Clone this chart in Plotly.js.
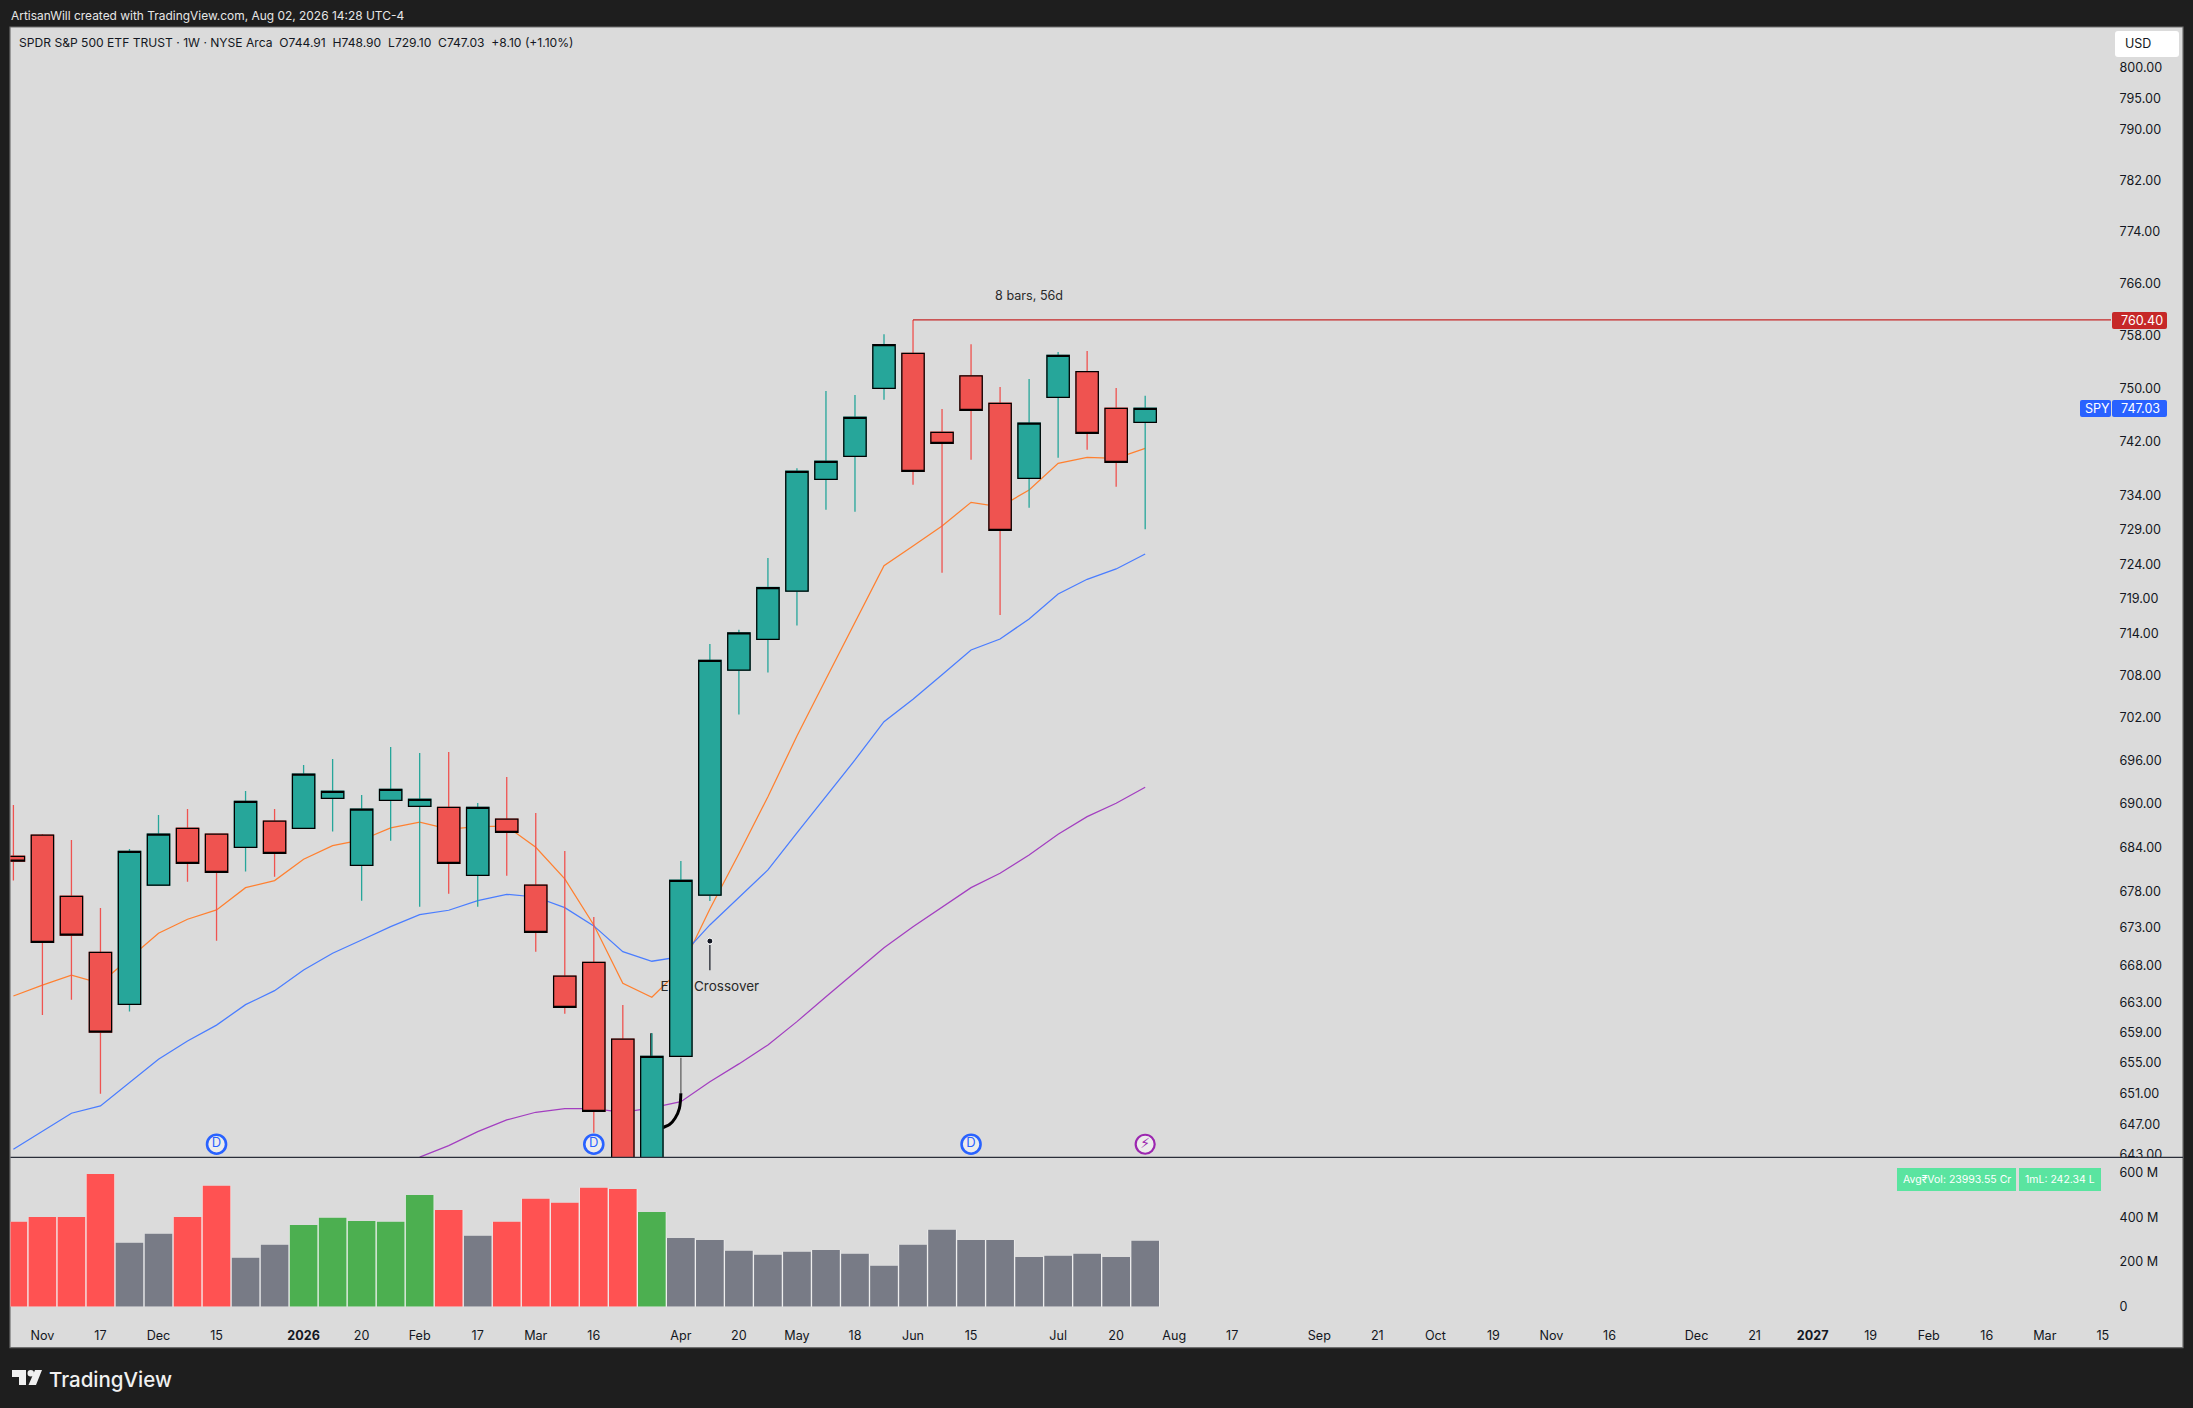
<!DOCTYPE html>
<html><head><meta charset="utf-8">
<script src="https://cdn.plot.ly/plotly-3.0.1.min.js"></script>
<style>html,body{margin:0;padding:0;background:#1e1e1e;}#c{width:2193px;height:1408px;}</style>
</head><body><div id="c"></div>
<script>
const opens  = [682.76,685.65,677.30,669.72,662.77,678.80,686.61,685.79,683.99,687.58,686.61,690.76,681.53,690.48,689.65,689.51,680.16,687.86,678.80,666.51,668.38,658.13,632.00,655.88,677.45,708.76,713.15,720.11,736.45,739.86,750.03,755.31,743.44,751.91,747.78,736.60,748.68,752.56,747.03,744.91];
const highs  = [689.83,685.83,685.00,675.71,683.76,688.45,689.28,685.85,691.77,689.28,695.39,696.23,691.21,697.90,697.06,697.20,690.10,693.72,688.72,683.48,674.48,662.68,658.93,682.12,712.48,714.52,724.90,738.10,749.63,749.03,758.21,760.40,746.92,756.71,750.23,751.44,755.51,755.66,750.08,748.90];
const lows   = [679.43,661.35,663.38,650.98,661.79,678.80,679.29,671.29,680.66,679.97,686.61,686.15,676.70,684.90,675.88,677.65,675.88,680.11,669.80,661.52,645.90,628.00,628.00,655.88,676.64,702.48,708.41,715.15,731.97,731.68,748.31,735.64,722.77,739.36,716.66,732.26,739.65,740.83,735.35,729.10];
const closes = [682.08,671.07,672.02,659.06,683.44,685.79,681.80,680.57,690.34,683.17,694.10,691.73,689.24,691.99,690.62,681.80,689.51,686.06,672.42,662.37,648.68,632.00,655.88,679.48,710.16,714.07,720.62,737.64,739.12,745.68,756.62,737.64,741.80,746.73,728.95,744.80,755.01,743.29,738.97,747.03];
const emaFast = [663.87,665.31,666.64,665.57,668.91,672.29,674.18,675.44,678.47,679.43,682.35,684.21,685.00,686.66,687.45,686.48,686.84,686.89,683.99,679.66,673.41,665.57,663.70,667.49,675.57,683.11,690.98,699.45,707.50,715.60,723.78,726.65,729.59,733.05,732.40,734.87,738.82,739.71,739.56,741.05];
const emaMid  = [643.75,646.13,648.42,649.37,652.47,655.49,657.90,660.00,662.72,664.58,667.35,669.59,671.38,673.18,674.80,675.40,676.70,677.57,677.20,675.75,673.28,669.80,668.52,669.13,673.41,677.16,680.89,685.97,690.94,696.09,701.47,704.62,708.12,711.63,713.21,716.08,719.68,721.81,723.31,725.48];
const emaSlow = [null,null,null,null,null,null,null,null,null,null,null,null,null,null,642.73,644.22,646.03,647.55,648.55,649.02,649.02,648.55,649.11,649.93,652.55,654.88,657.37,660.46,663.78,667.05,670.34,673.18,675.88,678.47,680.44,682.94,685.79,688.22,690.06,692.29];
const volumes = [379,401,401,593,285,325,401,540,218,276,365,397,383,379,499,432,316,379,482,464,531,526,423,307,298,249,231,245,253,236,182,276,343,298,298,222,227,236,222,294];
const volumeKinds = ['down','down','down','down','flat','flat','down','down','flat','flat','up','up','up','up','up','down','flat','down','down','down','down','down','up','flat','flat','flat','flat','flat','flat','flat','flat','flat','flat','flat','flat','flat','flat','flat','flat','flat'];
const priceTicks = [643,647,651,655,659,663,668,673,678,684,690,696,702,708,714,719,724,729,734,742,750,758,766,774,782,790,795,800];
const volumeTicks = [0,200,400,600];
const volumeTickText = ['0','200 M','400 M','600 M'];
const timeTickBars = [1,3,5,7,10,12,14,16,18,20,23,25,27,29,31,33,36,38,40,42,45,47,49,51,53,55,58,60,62,64,66,68,70,72];
const timeTickText = ['Nov','17','Dec','15','<b>2026</b>','20','Feb','17','Mar','16','Apr','20','May','18','Jun','15','Jul','20','Aug','17','Sep','21','Oct','19','Nov','16','Dec','21','<b>2027</b>','19','Feb','16','Mar','15'];
const resistanceLevel = 760.40;
const lastPrice = 747.03;
const dividendBars = [7,20,33];
const earningsBars = [39];
const badgePrice = 644.4;

const W=2193,H=1408,F='Inter, "Noto Sans", sans-serif';
const bars = opens.map((_,i)=>i);
const px = x=>x/W, py = y=>1-y/H;
const PL=10.5,PR=2183,PT=27.5,DIV=1157.3,AX=1322,PB=1347.7,CR=2111;
const xRange=[(PL-13.4)/29.02,(CR-13.4)/29.02];
const yRange=[Math.log10(800*Math.exp(-(DIV-67.1)/4980)),Math.log10(800*Math.exp((67.1-PT)/4980))];
const vRange=[-(AX-1306.5)/44.7*200,(1306.5-DIV)/44.7*200];
const xDom=[px(PL),px(CR)], pDom=[py(DIV),py(PT)], vDom=[py(AX),py(DIV)];
const UP='#26a69a',DN='#ef5350';
const volCol={down:'#ff5252',flat:'#787b86',up:'#4caf50'};

function rr(x0,y0,x1,y1,r){ // rounded rectangle in picture pixels
  const X=px,Y=py;
  return `M${X(x0+r)},${Y(y0)}L${X(x1-r)},${Y(y0)}Q${X(x1)},${Y(y0)} ${X(x1)},${Y(y0+r)}L${X(x1)},${Y(y1-r)}Q${X(x1)},${Y(y1)} ${X(x1-r)},${Y(y1)}L${X(x0+r)},${Y(y1)}Q${X(x0)},${Y(y1)} ${X(x0)},${Y(y1-r)}L${X(x0)},${Y(y0+r)}Q${X(x0)},${Y(y0)} ${X(x0+r)},${Y(y0)}Z`;
}
const pth=(d,fill)=>({type:'path',xref:'paper',yref:'paper',path:d,fillcolor:fill,line:{width:0},layer:'above'});
const poly=(pts)=>'M'+pts.map(p=>px(p[0])+','+py(p[1])).join('L')+'Z';
const shapes=[
 {type:'rect',xref:'paper',yref:'paper',x0:px(PL-0.5),x1:px(PR),y0:py(1347.7),y1:py(27),fillcolor:'#dbdbdb',line:{color:'#6e6e6e',width:1.2},layer:'below'},
 {type:'rect',xref:'paper',yref:'paper',x0:px(2112),x1:px(2182),y0:py(1165),y1:py(DIV),fillcolor:'#dbdbdb',line:{width:0},layer:'above'},
 {type:'line',xref:'paper',yref:'paper',x0:px(PL),x1:px(PR),y0:py(DIV),y1:py(DIV),line:{color:'#2a2e39',width:1.3},layer:'above'},
 pth(rr(2115,31,2179,57,3),'#ffffff'),
 pth(rr(2112,312,2167,329,2),'#c62828'),
 pth(rr(2080,400,2111,417,2),'#2962ff'),
 pth(rr(2112,400,2167,417,2),'#2962ff'),
 {type:'rect',xref:'paper',yref:'paper',x0:px(1897),x1:px(2016),y0:py(1191),y1:py(1168),fillcolor:'#5ae4a0',line:{width:0},layer:'above'},
 {type:'rect',xref:'paper',yref:'paper',x0:px(2019),x1:px(2101),y0:py(1191),y1:py(1168),fillcolor:'#5ae4a0',line:{width:0},layer:'above'},
 pth(poly([[12,1370],[26,1370],[26,1385],[19,1385],[19,1377],[12,1377]]),'#f0f0f0'),
 {type:'circle',xref:'paper',yref:'paper',x0:px(27.5),x1:px(34),y0:py(1376.5),y1:py(1370),fillcolor:'#f0f0f0',line:{width:0},layer:'above'},
 pth(poly([[35,1370],[42,1370],[36,1385],[28.5,1385]]),'#f0f0f0'),
];
const note=(x,y,text,size,color,anchor,extra)=>Object.assign({xref:'paper',yref:'paper',x:px(x),y:py(y),text,showarrow:false,xanchor:anchor||'left',yanchor:'middle',font:{family:F,size,color},borderpad:0},extra||{});
const annotations=[
 note(10,15.5,'ArtisanWill created with TradingView.com, Aug 02, 2026 14:28 UTC-4',11.95,'#e6e6e6'),
 note(18,42.5,'SPDR S&amp;P 500 ETF TRUST · 1W · NYSE Arca  O744.91  H748.90  L729.10  C747.03  +8.10 (+1.10%)',12.1,'#131722'),
 note(2124,43.5,'USD',12.5,'#131722'),
 note(2120.3,320.5,'760.40',12.6,'#ffffff'),
 note(2084,408.5,'SPY',12.6,'#ffffff'),
 note(2120.3,408.5,'747.03',12.6,'#ffffff'),
 note(1956.5,1179.5,'Avg₹Vol: 23993.55 Cr',10.5,'#ffffff','center'),
 note(2060,1179.5,'1mL: 242.34 L',10.5,'#ffffff','center'),
 note(48,1379,'TradingView',20.5,'#f0f0f0','left',{font:{family:'Inter, sans-serif',size:20.5,color:'#f0f0f0',weight:500}}),
];
const lineTrace=(y,color)=>({type:'scatter',mode:'lines',x:bars,y,line:{color,width:1.25},xaxis:'x',yaxis:'y',connectgaps:false});
const data=[
 {type:'bar',x:bars,y:volumes,width:1,marker:{color:'#f4f4f4',line:{width:0}},xaxis:'x2',yaxis:'y2'},
 {type:'bar',x:bars,y:volumes,width:0.955,marker:{color:volumeKinds.map(k=>volCol[k]),line:{width:0}},xaxis:'x2',yaxis:'y2'},
 lineTrace(emaFast,'#ff8030'),
 lineTrace(emaMid,'#4a7dff'),
 lineTrace(emaSlow,'#a33fc0'),
 // hand-drawn connector and note, beneath the candles
 {type:'scatter',mode:'lines',x:[23,23],y:[651.03,655.7],line:{color:'#777777',width:1.6},xaxis:'x',yaxis:'y'},
 {type:'scatter',mode:'lines',x:[22.3,22.62,22.80,22.95,23.0],y:[646.45,646.99,647.77,649.07,651.03],line:{color:'#000000',width:3,shape:'spline'},xaxis:'x',yaxis:'y'},
 {type:'scatter',mode:'lines',x:[21.98,21.98],y:[655.9,658.93],line:{color:'#000000',width:2},xaxis:'x',yaxis:'y'},
 {type:'scatter',mode:'lines',x:[24,24],y:[667.3,670.7],line:{color:'#131722',width:1.2},xaxis:'x',yaxis:'y'},
 {type:'scatter',mode:'markers',x:[24],y:[671.23],marker:{size:6,color:'#131722',line:{color:'#ffffff',width:1}},xaxis:'x',yaxis:'y'},
 {type:'scatter',mode:'text',x:[24],y:[665.0],text:['EMA Crossover'],textposition:'middle center',textfont:{family:F,size:13.5,color:'#2a2a2a'},xaxis:'x',yaxis:'y'},
 // candles
 {type:'candlestick',x:bars,open:opens,high:highs,low:lows,close:closes,whiskerwidth:0,
  increasing:{line:{color:UP,width:1.3},fillcolor:UP},decreasing:{line:{color:DN,width:1.3},fillcolor:DN},xaxis:'x3',yaxis:'y3'},
 {type:'candlestick',x:bars,open:opens,close:closes,high:bars.map(i=>Math.max(opens[i],closes[i])),low:bars.map(i=>Math.min(opens[i],closes[i])),whiskerwidth:0,
  increasing:{line:{color:'#000000',width:1.25},fillcolor:UP},decreasing:{line:{color:'#000000',width:1.25},fillcolor:DN},xaxis:'x3',yaxis:'y3'},
 {type:'scatter',mode:'lines',x:[31,xRange[1]],y:[resistanceLevel,resistanceLevel],line:{color:'#c62828',width:1.1},xaxis:'x3',yaxis:'y3'},
 {type:'scatter',mode:'text',x:[35],y:[763.95],text:['8 bars, 56d'],textposition:'middle center',textfont:{family:F,size:12.6,color:'#2a2a2a'},xaxis:'x3',yaxis:'y3'},
 {type:'scatter',mode:'markers+text',x:dividendBars,y:dividendBars.map(()=>badgePrice),text:dividendBars.map(()=>'D'),textposition:'middle center',textfont:{family:F,size:13,color:'#2962ff'},
  marker:{size:19,color:'#ececec',line:{color:'#2962ff',width:2.6}},xaxis:'x3',yaxis:'y3'},
 {type:'scatter',mode:'markers+text',x:earningsBars,y:earningsBars.map(()=>badgePrice),text:earningsBars.map(()=>'⚡'),textposition:'middle center',textfont:{family:'DejaVu Sans',size:14,color:'#9c27b0'},
  marker:{size:19,color:'#ececec',line:{color:'#9c27b0',width:2.2}},xaxis:'x3',yaxis:'y3'},
];
const layout={
 width:W,height:H,margin:{l:0,r:0,t:0,b:0,pad:0},paper_bgcolor:'#1e1e1e',plot_bgcolor:'rgba(0,0,0,0)',showlegend:false,hovermode:false,dragmode:false,barmode:'overlay',boxgap:0.23,boxgroupgap:0,boxmode:'overlay',
 shapes,annotations,
 xaxis:{domain:xDom,range:xRange,anchor:'y',type:'linear',showgrid:false,zeroline:false,showticklabels:false,ticks:'',showline:false},
 yaxis:{domain:pDom,range:yRange,anchor:'x',type:'log',side:'right',showgrid:false,zeroline:false,showline:false,tickmode:'array',tickvals:priceTicks,ticktext:priceTicks.map(v=>v.toFixed(2)),ticks:'outside',ticklen:5,tickcolor:'rgba(0,0,0,0)',tickwidth:1,tickfont:{family:F,size:12.6,color:'#131722'}},
 xaxis3:{domain:xDom,range:xRange,overlaying:'x',anchor:'y3',type:'linear',visible:false,rangeslider:{visible:false},showgrid:false,zeroline:false},
 yaxis3:{domain:pDom,range:yRange,overlaying:'y',anchor:'x3',type:'log',side:'right',visible:false,showgrid:false,zeroline:false},
 xaxis2:{domain:xDom,range:xRange,anchor:'y2',type:'linear',showgrid:false,zeroline:false,showline:false,tickmode:'array',tickvals:timeTickBars,ticktext:timeTickText,ticks:'outside',ticklen:2,tickcolor:'rgba(0,0,0,0)',tickfont:{family:F,size:12.6,color:'#131722'}},
 yaxis2:{domain:vDom,range:vRange,anchor:'x2',type:'linear',side:'right',showgrid:false,zeroline:false,showline:false,tickmode:'array',tickvals:volumeTicks,ticktext:volumeTickText,ticks:'outside',ticklen:5,tickcolor:'rgba(0,0,0,0)',tickfont:{family:F,size:12.6,color:'#131722'}},
};
Plotly.newPlot('c',data,layout,{displayModeBar:false,staticPlot:true});
</script></body></html>
